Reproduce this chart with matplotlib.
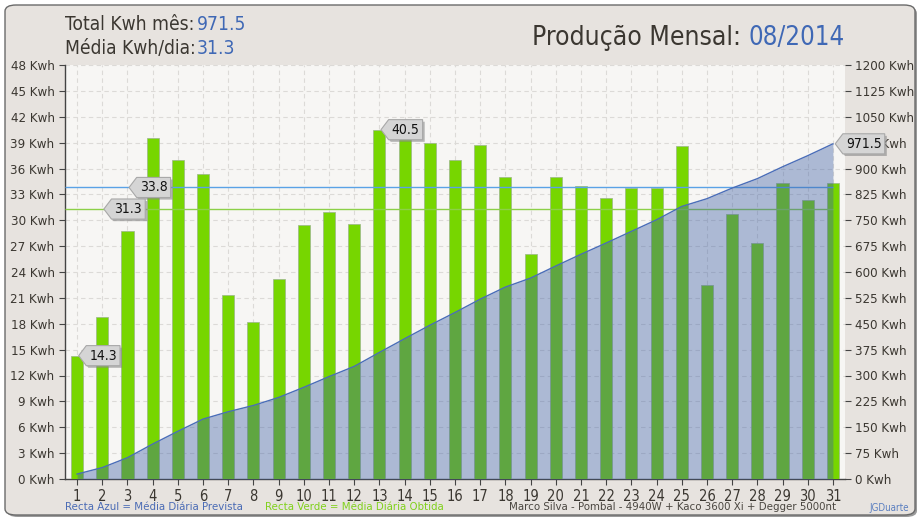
import matplotlib
matplotlib.use('Agg')
import matplotlib.pyplot as plt
from matplotlib.path import Path
from matplotlib.patches import FancyBboxPatch
import matplotlib.patheffects as pe
import numpy as np

# ---------------- data ----------------
days = list(range(1, 32))
daily_kwh = [14.3, 18.8, 28.7, 39.5, 37.0, 35.4, 21.3, 18.2, 23.2, 29.4,
             31.0, 29.6, 40.5, 39.7, 39.0, 37.0, 38.7, 35.0, 26.1, 35.0,
             34.0, 32.6, 33.7, 33.7, 38.6, 22.5, 30.7, 27.4, 34.3, 32.3, 34.3]
forecast_avg = 33.8
obtained_avg = 31.3
total_month = 971.5
month_label = "08/2014"
left_ticks = list(range(0, 49, 3))
right_ticks = list(range(0, 1201, 75))
daily_callouts = [(1, 14.3), (13, 40.5)]
avg_callouts = [(3, forecast_avg), (2, obtained_avg)]

plt.rcParams['font.family'] = ['DejaVu Sans']
plt.rcParams['font.stretch'] = 'condensed'

W, H = 920, 520
fig = plt.figure(figsize=(W / 100, H / 100), dpi=100, facecolor='white')

def fx(px):
    return px / W

def fy(py):
    return 1 - py / H

# frame with shadow
shadow = FancyBboxPatch((fx(7), fy(517)), fx(910), 510 / H,
                        boxstyle="round,pad=0,rounding_size=0.012",
                        transform=fig.transFigure, facecolor='#9a9a9a',
                        edgecolor='none', zorder=-2)
frame = FancyBboxPatch((fx(5), fy(515)), fx(910), 510 / H,
                       boxstyle="round,pad=0,rounding_size=0.012",
                       transform=fig.transFigure, facecolor='#e7e3df',
                       edgecolor='#6a6a6a', linewidth=1.0, zorder=-1)
fig.patches.extend([shadow, frame])

ax = fig.add_axes([fx(65), fy(479), fx(845) - fx(65), (479 - 65) / H])
ax.set_zorder(2)
ax.set_facecolor('#f7f6f4')
ax2 = ax.twinx()
ax2.set_zorder(3)
ax2.patch.set_visible(False)

text_dark = '#3b3731'
bar_green = '#77d600'

ax.bar(days, daily_kwh, width=0.48, color=bar_green, edgecolor='#9ab58a',
       linewidth=0.5, zorder=3)
ax.hlines([forecast_avg], 0.52, 31, color='#5aa2e6', linewidth=1.0, zorder=4)
ax.hlines([obtained_avg], 0.52, 31, color='#8cd048', linewidth=1.0, zorder=4)

ax.set_xlim(0.52, 31.48)
ax.set_ylim(0, 48)
ax.set_xticks(days)
ax.set_xticklabels([str(d) for d in days])
ax.set_yticks(left_ticks)
ax.set_yticklabels([f"{v} Kwh" for v in left_ticks])
ax.grid(True, color='#dcdad7', linestyle=(0, (4, 3)), linewidth=0.8, zorder=0)
ax.set_axisbelow(True)
for s in ['top', 'right']:
    ax.spines[s].set_visible(False)
for s in ['left', 'bottom']:
    ax.spines[s].set_color('#444444')
    ax.spines[s].set_linewidth(1.0)
ax.tick_params(axis='both', colors='#444444', labelcolor=text_dark,
               labelsize=9.5, length=4, width=0.8)
ax.tick_params(axis='x', pad=3, labelsize=10.5)

cum = np.cumsum(daily_kwh)
ax2.fill_between(days, cum, 0, color='#3c5fa5', alpha=0.4, linewidth=0, zorder=2)
ax2.plot(days, cum, color='#4a6db8', linewidth=1.0, zorder=3)
ax2.set_ylim(0, 1200)
ax2.set_yticks(right_ticks)
ax2.set_yticklabels([f"{v} Kwh" for v in right_ticks])
for s in ['top', 'right', 'left', 'bottom']:
    ax2.spines[s].set_visible(False)
ax2.tick_params(axis='y', colors='#444444', labelcolor=text_dark,
                labelsize=9.5, length=4, width=0.8)


def tag_box(x0, y0, width, height, mutation_size):
    pad = 0.22 * mutation_size
    tip = 0.55 * mutation_size
    x0 -= pad
    y0 -= pad
    width += 2 * pad
    height += 2 * pad
    verts = [(x0 - tip, y0 + height / 2), (x0, y0 + height),
             (x0 + width, y0 + height), (x0 + width, y0), (x0, y0),
             (x0 - tip, y0 + height / 2)]
    codes = [Path.MOVETO] + [Path.LINETO] * 4 + [Path.CLOSEPOLY]
    return Path(verts, codes)


def callout(axis, x, y, label, xycoords='data'):
    t = axis.annotate(label, xy=(x, y), xycoords=xycoords,
                      xytext=(11, 0), textcoords='offset pixels',
                      ha='left', va='center', fontsize=10, color='#111111',
                      bbox=dict(boxstyle=tag_box, facecolor='#d5d5d5',
                                edgecolor='#a8a8a8', linewidth=0.8),
                      zorder=10, annotation_clip=False)
    t.get_bbox_patch().set_path_effects(
        [pe.SimplePatchShadow(offset=(1.5, -1.5), shadow_rgbFace='#888888', alpha=0.6),
         pe.Normal()])
    return t

for d, v in daily_callouts:
    callout(ax2, d + 0.05, v, f"{v}", xycoords=ax.transData)
for d, v in avg_callouts:
    callout(ax2, d + 0.05, v, f"{v}", xycoords=ax.transData)
callout(ax2, days[-1] + 0.08, cum[-1], f"{total_month}")

# header
fig.text(fx(65), fy(30), "Total Kwh mês:", fontsize=13.8, color=text_dark, va='baseline')
fig.text(fx(197), fy(30), f"{total_month}", fontsize=13.8, color='#3f68b5', va='baseline')
fig.text(fx(65), fy(54), "Média Kwh/dia:", fontsize=13.8, color=text_dark, va='baseline')
fig.text(fx(197), fy(54), f"{obtained_avg}", fontsize=13.8, color='#3f68b5', va='baseline')
fig.text(fx(845), fy(45), month_label, fontsize=18.5, color='#3f68b5',
         va='baseline', ha='right')
fig.text(fx(741), fy(45), "Produção Mensal:", fontsize=19, color=text_dark,
         va='baseline', ha='right')

# footer
fig.text(fx(65), fy(507), "Recta Azul = Média Diária Prevista", fontsize=8.2,
         color='#4a6bb5', va='center')
fig.text(fx(265), fy(507), "Recta Verde = Média Diária Obtida", fontsize=8.2,
         color='#80d11c', va='center')
fig.text(fx(836), fy(507), "Marco Silva - Pombal - 4940W + Kaco 3600 Xi + Degger 5000nt",
         fontsize=8.2, color='#4a4640', va='center', ha='right')
fig.text(fx(909), fy(508), "JGDuarte", fontsize=7, color='#5b7fc0',
         va='center', ha='right')

fig.savefig('out.png', dpi=100, facecolor='white')
